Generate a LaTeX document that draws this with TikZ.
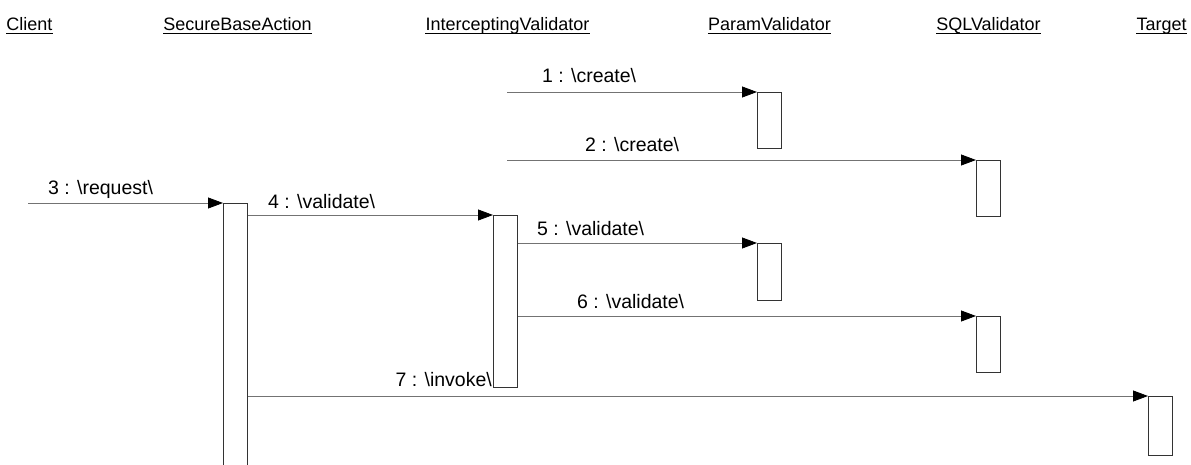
\documentclass[tikz,border=0pt]{standalone}
\usepackage{fontspec}
\setmainfont{Liberation Sans}
\usetikzlibrary{arrows.meta}

\tikzset{
  header/.style={inner sep=0pt, anchor=base, font=\fontsize{18}{21}\selectfont},
  msglabel/.style={inner sep=0pt, anchor=base west, font=\fontsize{19.5}{22}\selectfont},
  activation/.style={draw=black!80, line width=0.8pt, rectangle, anchor=north west,
    minimum width=24pt, inner sep=0pt},
  msg/.style={draw=black!55, line width=0.8pt,
    -{Triangle[length=15pt,width=11pt,black]}, shorten >=0pt},
  uline/.style={draw=black, line width=0.8pt}
}

\newcommand{\bs}{\textbackslash}

\begin{document}
\begin{tikzpicture}[x=1pt,y=-1pt]
  \useasboundingbox (0,0) rectangle (1191,465);

  % object headers (underlined instance names)
  \node[header] (client) at (29.5,31)  {Client};
  \node[header] (sba)    at (237.5,31) {SecureBaseAction};
  \node[header] (iv)     at (507.5,31) {InterceptingValidator};
  \node[header] (pv)     at (769.5,31) {ParamValidator};
  \node[header] (sql)    at (988.5,31) {SQLValidator};
  \node[header] (target) at (1161.5,31){Target};
  \foreach \h in {client,sba,iv,pv,sql,target}
    \draw[uline] ([yshift=-2.5pt]\h.base west) -- ([yshift=-2.5pt]\h.base east);

  % message origins on lifelines
  \coordinate (clientsrc) at (28,203);
  \coordinate (ivsrcA)    at (507,92);
  \coordinate (ivsrcB)    at (507,160);

  % activation bars
  \node[activation, minimum height=56pt]  (pvA)   at (757,92)   {};
  \node[activation, minimum height=56pt]  (sqlA)  at (976,160)  {};
  \node[activation, minimum height=280pt] (sbaA)  at (223,203)  {};
  \node[activation, minimum height=172pt] (ivA)   at (493,215)  {};
  \node[activation, minimum height=57pt]  (pvB)   at (757,243)  {};
  \node[activation, minimum height=56pt]  (sqlB)  at (976,316)  {};
  \node[activation, minimum height=59pt]  (tgtA)  at (1148,396) {};

  % messages
  \draw[msg] (ivsrcA) -- (pvA.north west);
  \draw[msg] (ivsrcB) -- (sqlA.north west);
  \draw[msg] (clientsrc) -- (sbaA.north west);
  \draw[msg] (sbaA.east |- ivA.north west) -- (ivA.north west);
  \draw[msg] (ivA.east |- pvB.north west) -- (pvB.north west);
  \draw[msg] (ivA.east |- sqlB.north west) -- (sqlB.north west);
  \draw[msg] (sbaA.east |- tgtA.north west) -- (tgtA.north west);

  % message labels
  \node[msglabel] (l1) at (542,83)  {1 : \bs create\bs};
  \node[msglabel] (l2) at (585,152) {2 : \bs create\bs};
  \node[msglabel] (l3) at (48,195)  {3 : \bs request\bs};
  \node[msglabel] (l4) at (268,208) {4 : \bs validate\bs};
  \node[msglabel] (l5) at (537,235) {5 : \bs validate\bs};
  \node[msglabel] (l6) at (577,308) {6 : \bs validate\bs};
  \node[msglabel, anchor=base east] (l7) at (492,386) {7 : \bs invoke\bs};
\end{tikzpicture}
\end{document}
